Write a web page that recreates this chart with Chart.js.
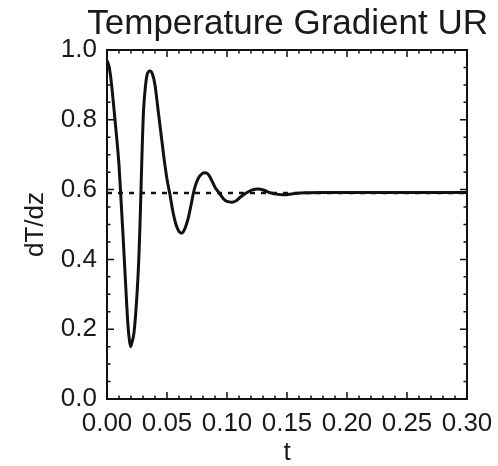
<!DOCTYPE html>
<html>
<head>
<meta charset="utf-8">
<title>Temperature Gradient UR</title>
<script src="https://cdn.jsdelivr.net/npm/chart.js@4.4.1/dist/chart.umd.min.js"></script>
<style>
  html, body { margin: 0; padding: 0; background: #fff; }
</style>
</head>
<body>
<canvas id="gradChart" width="498" height="466"></canvas>
<script>
// time samples and dT/dz at each one
const tValues = [
    0, 0.0015, 0.003, 0.005, 0.0075, 0.01, 0.0117, 0.0135, 0.0155, 0.0175, 0.0188, 0.0197,
    0.021, 0.0225, 0.025, 0.0265, 0.0275, 0.0285, 0.0295, 0.0305, 0.032, 0.0335, 0.0358,
    0.038, 0.040, 0.0425, 0.045, 0.0475, 0.050, 0.0525, 0.055, 0.0575, 0.060, 0.0622,
    0.0645, 0.0678, 0.070, 0.072, 0.074, 0.076, 0.079, 0.0817,
    0.0845, 0.0872, 0.090, 0.094, 0.097, 0.100, 0.104,
    0.108, 0.111, 0.116, 0.121, 0.126,
    0.131, 0.136, 0.141, 0.147, 0.155, 0.165, 0.18, 0.20, 0.22, 0.24, 0.26, 0.28, 0.30
];
const gradValues = [
    0.97, 0.955, 0.925, 0.86, 0.77, 0.67, 0.57, 0.46, 0.33, 0.21, 0.165, 0.15,
    0.165, 0.19, 0.30, 0.40, 0.50, 0.62, 0.74, 0.83, 0.895, 0.93, 0.94,
    0.93, 0.90, 0.83, 0.76, 0.69, 0.63, 0.585, 0.535, 0.50, 0.48, 0.475,
    0.485, 0.52, 0.555, 0.59, 0.615, 0.632, 0.645, 0.648,
    0.643, 0.627, 0.607, 0.588, 0.574, 0.566, 0.564,
    0.569, 0.578, 0.590, 0.599, 0.602,
    0.598, 0.591, 0.587, 0.585, 0.588, 0.591, 0.592, 0.592, 0.592, 0.592, 0.592, 0.592, 0.592
];

// steady-state reference level (dashed)
const steadyT = [0, 0.30];
const steadyValue = [0.59, 0.59];

// axis ranges and tick steps
const xRange = [0, 0.30];
const yRange = [0, 1.0];
const xStep = 0.05;
const yStep = 0.2;
const xMinorPerMajor = 5;
const yMinorPerMajor = 4;

const ink = '#111';
const textColor = '#1a1a1a';
const fontFamily = '"Liberation Sans", Arial, Helvetica, sans-serif';

// box around the plot with inward major/minor ticks on all four sides
const frameTicks = {
    id: 'frameTicks',
    afterDraw(chart) {
        const { ctx, chartArea: a, scales: { x, y } } = chart;
        ctx.save();
        ctx.strokeStyle = ink;
        ctx.lineWidth = 2;
        ctx.strokeRect(a.left, a.top, a.right - a.left, a.bottom - a.top);

        ctx.lineWidth = 1.5;
        ctx.beginPath();
        const xt = x.ticks.map(t => t.value);
        xt.forEach((v, i) => {
            for (let k = 0; k < xMinorPerMajor; k++) {
                if (k > 0 && i === xt.length - 1) break;
                const px = x.getPixelForValue(v + k * xStep / xMinorPerMajor);
                const len = k === 0 ? 7 : 3.5;
                ctx.moveTo(px, a.bottom); ctx.lineTo(px, a.bottom - len);
                ctx.moveTo(px, a.top); ctx.lineTo(px, a.top + len);
            }
        });
        const yt = y.ticks.map(t => t.value);
        yt.forEach((v, i) => {
            for (let k = 0; k < yMinorPerMajor; k++) {
                if (k > 0 && i === yt.length - 1) break;
                const py = y.getPixelForValue(v + k * yStep / yMinorPerMajor);
                const len = k === 0 ? 7 : 3.5;
                ctx.moveTo(a.left, py); ctx.lineTo(a.left + len, py);
                ctx.moveTo(a.right, py); ctx.lineTo(a.right - len, py);
            }
        });
        ctx.stroke();
        ctx.restore();
    }
};

const ctx = document.getElementById('gradChart').getContext('2d');
new Chart(ctx, {
    type: 'line',
    data: {
        datasets: [
            {
                data: steadyT.map((t, i) => ({ x: t, y: steadyValue[i] })),
                borderColor: ink,
                borderWidth: 2.5,
                borderDash: [5, 6],
                pointRadius: 0,
                fill: false
            },
            {
                data: tValues.map((t, i) => ({ x: t, y: gradValues[i] })),
                borderColor: ink,
                borderWidth: 3,
                pointRadius: 0,
                cubicInterpolationMode: 'monotone',
                fill: false
            }
        ]
    },
    options: {
        responsive: false,
        animation: false,
        events: [],
        layout: { padding: { left: 0, right: 10, top: 0, bottom: 0 } },
        plugins: {
            legend: { display: false },
            tooltip: { enabled: false },
            title: {
                display: true,
                align: 'end',
                text: 'Temperature Gradient UR',
                color: textColor,
                font: { family: fontFamily, size: 35, weight: 'normal' },
                padding: { top: 3, bottom: 5 }
            }
        },
        scales: {
            x: {
                type: 'linear',
                min: xRange[0],
                max: xRange[1],
                grid: { display: false, drawTicks: false },
                border: { display: false },
                ticks: {
                    stepSize: xStep,
                    padding: 9,
                    maxRotation: 0,
                    color: textColor,
                    font: { family: fontFamily, size: 26 },
                    callback: v => v.toFixed(2)
                },
                title: {
                    display: true,
                    text: 't',
                    color: textColor,
                    font: { family: fontFamily, size: 26, lineHeight: 1 },
                    padding: 0
                },
                afterFit: s => {
                    s.height = 67;
                    s.paddingLeft = 0;
                    s.paddingRight = 31;
                }
            },
            y: {
                min: yRange[0],
                max: yRange[1],
                grid: { display: false, drawTicks: false },
                border: { display: false },
                ticks: {
                    stepSize: yStep,
                    padding: 10,
                    color: textColor,
                    font: { family: fontFamily, size: 26 },
                    callback: v => v.toFixed(1)
                },
                title: {
                    display: true,
                    text: 'dT/dz',
                    color: textColor,
                    font: { family: fontFamily, size: 26, lineHeight: 1.2 },
                    padding: { top: 20 }
                },
                afterFit: s => { s.width = 107; }
            }
        }
    },
    plugins: [frameTicks]
});
</script>
</body>
</html>
